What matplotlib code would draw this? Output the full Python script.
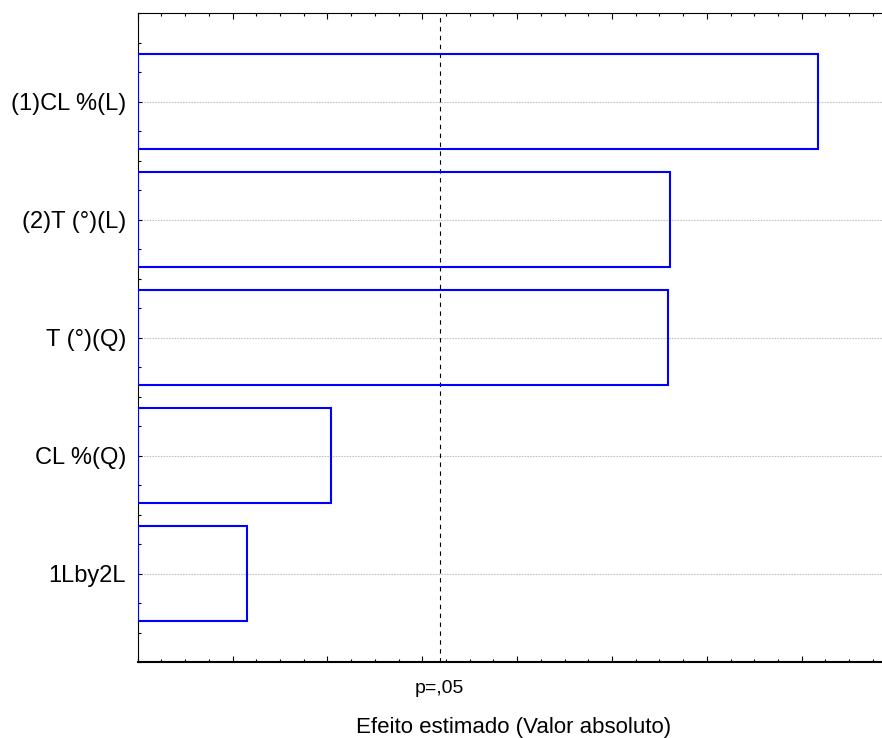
import numpy as np
import matplotlib
matplotlib.use("Agg")
import matplotlib.pyplot as plt
from matplotlib.ticker import MultipleLocator

# Pareto chart of standardized effects
effects = ["(1)CL %(L)", "(2)T (°)(L)", "T (°)(Q)", "CL %(Q)", "1Lby2L"]
t_values = [7.175, 5.61, 5.59, 2.04, 1.152]
t_crit = 3.182  # p = .05, 3 df
p_label = "p=,05"
x_title = "Efeito estimado (Valor absoluto)"

plt.rcParams['font.family'] = ['Liberation Sans', 'DejaVu Sans']

W, H = 882, 738
fig = plt.figure(figsize=(W / 100, H / 100), dpi=100)
left, right, top, bottom = 137.7, 882, 13, 662
ax = fig.add_axes([left / W, (H - bottom) / H, (right - left) / W, (bottom - top) / H])

pos = np.arange(len(effects))
ax.barh(pos, t_values, height=0.8, left=0, facecolor='none', edgecolor='#0000ff',
        linewidth=1.5, zorder=3)

ax.set_xlim(0, (right - left) / 94.86)
ax.set_ylim(len(effects) - 0.25, -0.75)

# grid through the category centres
for y in pos:
    ax.axhline(y, color='#c4c4c4', linewidth=0.8, linestyle=(0, (1.5, 1)), zorder=1)

# significance line
ax.axvline(t_crit, color='black', linewidth=0.8, linestyle=(0, (4, 4)), zorder=2)
ax.annotate(p_label, xy=(t_crit, 0), xycoords=('data', 'axes fraction'),
            xytext=(0, -22.3), textcoords='offset points',
            ha='center', va='baseline', fontsize=14)

ax.set_yticks(pos)
ax.set_yticklabels(effects, fontsize=17)
ax.yaxis.set_minor_locator(MultipleLocator(0.25))
ax.xaxis.set_major_locator(MultipleLocator(1))
ax.xaxis.set_minor_locator(MultipleLocator(0.25))
ax.tick_params(axis='x', which='both', direction='in', top=True, bottom=True, labelbottom=False)
ax.tick_params(axis='x', which='major', length=4.5, width=0.8)
ax.tick_params(axis='x', which='minor', length=2, width=0.8)
ax.tick_params(axis='y', which='major', direction='in', length=3, width=0.8, pad=8.4)
ax.tick_params(axis='y', which='minor', direction='in', length=2, width=0.8)

ax.spines['right'].set_visible(False)
ax.spines['left'].set_linewidth(0.8)
ax.spines['top'].set_linewidth(0.8)
ax.spines['bottom'].set_linewidth(1.5)

ax.set_xlabel(x_title, fontsize=16)
ax.xaxis.set_label_coords(0.5056, -71 / (bottom - top))
ax.xaxis.label.set_va('baseline')

fig.savefig("out.png", dpi=100)
